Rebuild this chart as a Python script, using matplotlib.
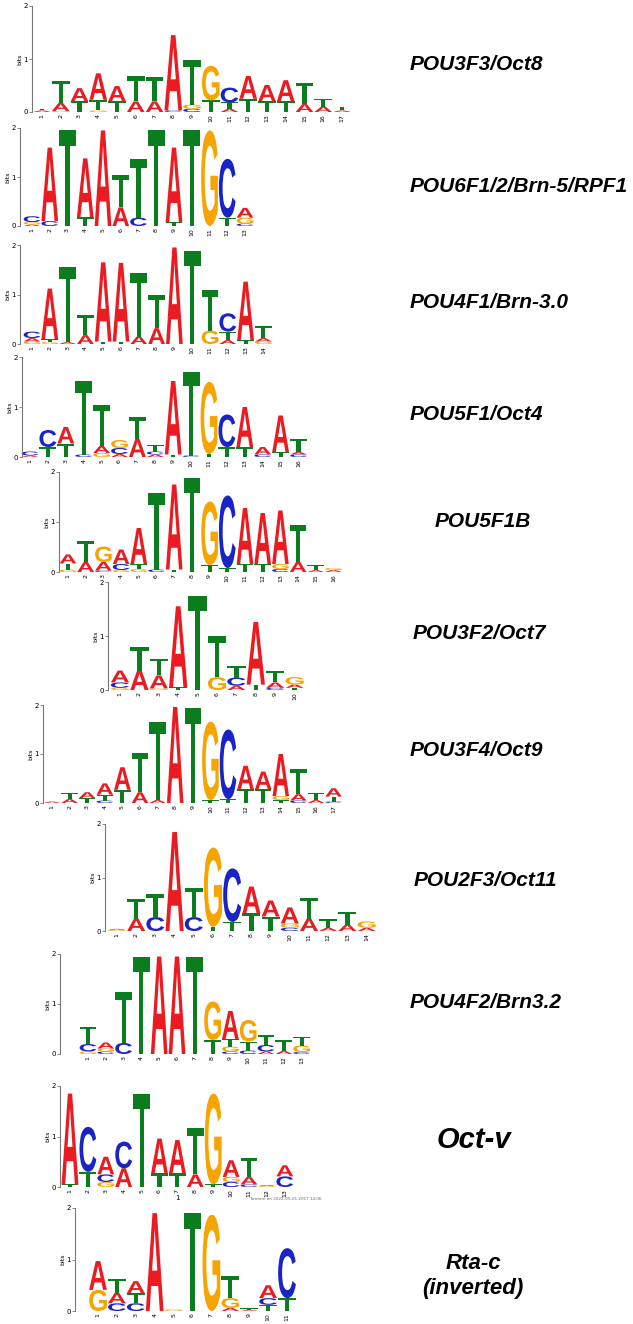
import matplotlib
matplotlib.use("Agg")
import matplotlib.pyplot as plt
from matplotlib.textpath import TextPath
from matplotlib.patches import PathPatch
from matplotlib.font_manager import FontProperties
from matplotlib.transforms import Affine2D

# motif columns: letter -> information (bits), one dict per position
oct8 = [
    {"A": .03, "T": .03}, {"G": .02, "A": .15, "T": .42}, {"T": .2, "A": .25},
    {"G": .03, "T": .2, "A": .5}, {"T": .2, "A": .29}, {"A": .2, "T": .47},
    {"A": .2, "T": .46}, {"C": .03, "A": 1.42}, {"C": .06, "G": .08, "T": .84},
    {"T": .22, "G": .65}, {"A": .06, "T": .12, "C": .28}, {"T": .25, "A": .43},
    {"T": .2, "A": .31}, {"T": .2, "A": .4}, {"A": .15, "T": .4},
    {"A": .1, "T": .15}, {"A": .03, "T": .07},
]
brn5 = [
    {"A": .03, "G": .05, "C": .12}, {"C": .1, "A": 1.5}, {"T": 1.95},
    {"T": .18, "A": 1.2}, {"A": 1.95}, {"A": .38, "T": .66},
    {"C": .17, "T": 1.2}, {"T": 1.95}, {"T": .08, "A": 1.52},
    {"T": 1.95}, {"G": 1.95}, {"T": .17, "C": 1.2},
    {"C": .05, "G": .12, "A": .2},
]
brn30 = [
    {"G": .05, "A": .07, "C": .13}, {"G": .04, "T": .06, "A": 1.02},
    {"A": .04, "T": 1.52}, {"A": .18, "T": .41}, {"T": .05, "A": 1.6},
    {"T": .05, "A": 1.59}, {"A": .15, "T": 1.28}, {"A": .32, "T": .68},
    {"A": 1.95}, {"T": 1.88}, {"G": .27, "T": .82},
    {"A": .08, "T": .17, "C": .37}, {"T": .08, "A": 1.18},
    {"G": .05, "A": .07, "T": .25},
]
oct4 = [
    {"A": .03, "C": .08}, {"T": .2, "C": .34}, {"T": .27, "A": .33},
    {"C": .05, "T": 1.47}, {"G": .08, "A": .14, "T": .83},
    {"A": .06, "C": .12, "G": .16}, {"A": .36, "T": .44},
    {"A": .05, "C": .06, "T": .14}, {"T": .05, "A": 1.47}, {"C": .03, "T": 1.67},
    {"T": .06, "G": 1.44}, {"T": .2, "C": .65}, {"T": .2, "A": .8},
    {"C": .05, "A": .15}, {"T": .1, "A": .73}, {"C": .05, "A": .05, "T": .26},
]
pou5f1b = [
    {"G": .05, "T": .12, "A": .18}, {"A": .2, "T": .43},
    {"C": .03, "A": .17, "G": .31}, {"G": .04, "C": .12, "A": .29},
    {"G": .06, "T": .1, "A": .72}, {"C": .05, "T": 1.53}, {"T": .05, "A": 1.7},
    {"T": 1.88}, {"T": .14, "G": 1.27}, {"T": .08, "C": 1.45},
    {"T": .16, "A": 1.12}, {"T": .16, "A": 1.02},
    {"C": .06, "G": .1, "A": 1.07}, {"A": .2, "T": .75},
    {"A": .04, "T": .1}, {"A": .04, "G": .04},
]
oct7 = [
    {"G": .04, "C": .1, "A": .22}, {"A": .36, "T": .43},
    {"G": .03, "A": .24, "T": .31}, {"T": .05, "A": 1.5}, {"T": 1.74},
    {"G": .24, "T": .76}, {"A": .08, "C": .15, "T": .22},
    {"T": .1, "A": 1.16}, {"C": .04, "A": .1, "T": .21},
    {"A": .06, "T": .04, "G": .14},
]
oct9 = [
    {"A": .03}, {"A": .08, "T": .12}, {"T": .1, "A": .12},
    {"C": .05, "T": .12, "A": .23}, {"T": .27, "A": .46}, {"A": .22, "T": .8},
    {"A": .06, "T": 1.6}, {"A": 1.96}, {"T": 1.93}, {"T": .06, "G": 1.6},
    {"T": .08, "C": 1.42}, {"T": .28, "A": .48}, {"T": .28, "A": .36},
    {"T": .06, "G": .08, "A": .86}, {"C": .05, "A": .13, "T": .52},
    {"A": .06, "T": .14}, {"C": .03, "T": .1, "A": .17},
]
oct11 = [
    {"G": .02, "A": .02}, {"A": .23, "T": .37}, {"C": .26, "T": .43},
    {"A": 1.85}, {"C": .26, "T": .55}, {"T": .08, "G": 1.48},
    {"T": .17, "C": 1.0}, {"T": .33, "A": .5}, {"T": .27, "A": .3},
    {"C": .06, "G": .08, "A": .3}, {"A": .23, "T": .39}, {"A": .06, "T": .16},
    {"A": .12, "T": .24}, {"A": .06, "G": .12},
]
brn32 = [
    {"G": .05, "C": .15, "T": .35}, {"C": .05, "G": .06, "A": .12},
    {"C": .22, "T": 1.03}, {"T": 1.95}, {"A": 1.95}, {"A": 1.95}, {"T": 1.95},
    {"T": .28, "G": .77}, {"C": .05, "G": .1, "T": .15, "A": .56},
    {"C": .07, "T": .18, "G": .43}, {"A": .05, "T": .2, "C": .13},
    {"A": .06, "T": .22}, {"C": .04, "T": .18, "G": .13},
]
octv = [
    {"T": .05, "A": 1.8}, {"T": .3, "C": .89}, {"C": .15, "G": .1, "A": .35},
    {"A": .37, "C": .53}, {"T": 1.85}, {"T": .27, "A": .69},
    {"T": .27, "A": .66}, {"A": .25, "T": .91}, {"T": .05, "G": 1.8},
    {"C": .1, "G": .1, "A": .33}, {"C": .05, "A": .15, "T": .37},
    {"G": .02, "A": .02}, {"A": .22, "C": .21},
]
rtac = [
    {"G": .41, "A": .56}, {"C": .15, "A": .2, "T": .27},
    {"C": .15, "T": .2, "A": .23}, {"A": 1.9}, {"G": .03},
    {"T": 1.9}, {"G": 1.87}, {"A": .06, "G": .19, "T": .42},
    {"T": .03, "A": .02}, {"T": .12, "C": .13, "A": .25}, {"T": .25, "C": .97},
]

motifs = [oct8, brn5, brn30, oct4, pou5f1b, oct7, oct9, oct11, brn32, octv, rtac]
names = ["POU3F3/Oct8", "POU6F1/2/Brn-5/RPF1", "POU4F1/Brn-3.0", "POU5F1/Oct4",
         "POU5F1B", "POU3F2/Oct7", "POU3F4/Oct9", "POU2F3/Oct11",
         "POU4F2/Brn3.2", "Oct-v", "Rta-c\n(inverted)"]

W, H = 633, 1324
COLORS = {"A": "#ea1c22", "C": "#1a23c4", "G": "#f6a500", "T": "#0c7d1e"}
FP = FontProperties(family="Liberation Sans", weight="bold")

# pixel layout: spine x, first column x, column step, baseline y, 2-bit y
layout = [
    (32, 42, 18.75, 112, 6), (20, 32, 17.75, 226, 128), (20, 32, 17.8, 344, 245),
    (22, 30, 17.9, 457, 357), (59, 68, 17.7, 572, 472), (108, 120, 19.4, 690, 582),
    (43, 52, 17.6, 803, 705), (105, 117, 19.2, 931, 824), (60, 88, 17.8, 1054, 954),
    (60, 70, 17.9, 1187, 1086), (75, 98, 18.9, 1311, 1208),
]
label_pos = [(410, 65), (410, 186), (410, 302), (410, 414), (435, 521), (413, 633),
             (410, 751), (414, 881), (410, 1002), (437, 1140), (473, 1276)]


def draw_letter(ax, ch, x, y0, h, width=0.94):
    path = TextPath((0, 0), ch, size=1, prop=FP)
    ext = path.get_extents()
    tr = (Affine2D().translate(-ext.x0, -ext.y0)
          .scale(width / ext.width, h / ext.height)
          .translate(x - width / 2, y0))
    ax.add_patch(PathPatch(tr.transform_path(path), facecolor=COLORS[ch],
                           edgecolor="none", clip_on=False))


fig = plt.figure(figsize=(W / 100, H / 100), dpi=100)

for cols, (sx, c1, step, y0, y2) in zip(motifs, layout):
    n = len(cols)
    right = c1 + (n - 0.5) * step
    ax = fig.add_axes([sx / W, 1 - y0 / H, (right - sx) / W, (y0 - y2) / H])
    ax.set_xlim(1 - (c1 - sx) / step, n + 0.5)
    ax.set_ylim(0, 2)
    for i, col in enumerate(cols, start=1):
        base = 0
        for ch, h in sorted(col.items(), key=lambda kv: kv[1]):
            draw_letter(ax, ch, i, base, h)
            base += h
    for s in ["top", "right", "bottom"]:
        ax.spines[s].set_visible(False)
    ax.spines["left"].set_color("#777777")
    ax.spines["left"].set_linewidth(0.8)
    ax.set_yticks([0, 1, 2])
    ax.tick_params(axis="y", labelsize=5, length=2, width=0.6, color="#777777", pad=1)
    ax.set_xticks(range(1, n + 1))
    ax.set_xticklabels([str(i) for i in range(1, n + 1)], rotation=90, fontsize=4.5)
    ax.tick_params(axis="x", length=0, pad=1.5)
    ax.set_ylabel("bits", fontsize=4.5, labelpad=1)
    ax.patch.set_alpha(0)

for name, (lx, ly) in zip(names, label_pos):
    if name == "Oct-v":
        fig.text(lx / W, 1 - ly / H, name, fontsize=21, fontweight="bold",
                 style="italic", family="Liberation Sans", va="center")
    elif "\n" in name:
        fig.text(lx / W, 1 - ly / H, name, fontsize=16, fontweight="bold",
                 style="italic", family="Liberation Sans", va="center", ha="center",
                 linespacing=1.3)
    else:
        fig.text(lx / W, 1 - ly / H, name, fontsize=15, fontweight="bold",
                 style="italic", family="Liberation Sans", va="center")

fig.text(177 / W, 1 - 1198 / H, "1", fontsize=5, ha="center", va="center")
fig.text(285 / W, 1 - 1199 / H, "Tomtom on 2022-05-01 2017 14:06", fontsize=3,
         color="#666666", ha="center", va="center")

fig.savefig("out.png", dpi=100)
